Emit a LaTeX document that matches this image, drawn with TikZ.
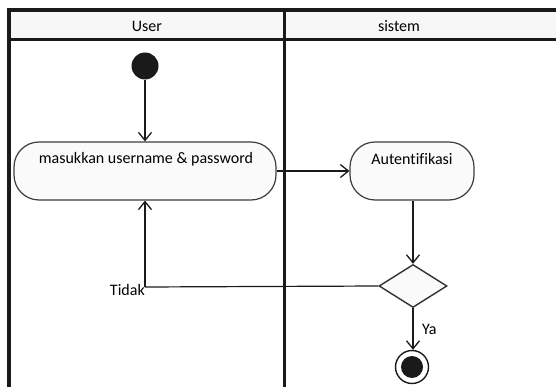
\documentclass[tikz,border=0pt]{standalone}
\usepackage{fontspec}
\setmainfont{Carlito}[Ligatures=NoCommon]
\usetikzlibrary{arrows.meta,shapes.geometric}
\definecolor{ink}{HTML}{1A1A1A}
\definecolor{lanehead}{HTML}{F7F7F7}
\definecolor{actfill}{HTML}{FAFAFA}
\tikzset{
  lane/.style={draw=ink, line width=3.5pt},
  activity/.style={draw=ink!85, line width=1.2pt, rounded corners=25pt, fill=actfill,
    minimum height=58pt, inner sep=0pt},
  decision/.style={diamond, draw=ink!90, line width=1.4pt, fill=actfill, aspect=1.6,
    minimum width=68pt, minimum height=43pt, inner sep=0pt},
  flow/.style={draw=ink, line width=1.6pt, -{Straight Barb[length=8pt,width=13pt,line width=1.3pt]}},
  label/.style={font=\fontsize{16}{18}\selectfont, inner sep=0pt}
}
\begin{document}
\begin{tikzpicture}[x=1pt,y=-1pt]
\useasboundingbox (0,0) rectangle (556,387);
\clip (0,0) rectangle (556,387);
% swimlane header band and frame
\fill[lanehead] (9,10) rectangle (570,39);
\draw[lane] (9,400) -- (9,10) -- (570,10);
\draw[lane] (9,39.5) -- (570,39.5);
\draw[lane] (284.5,10) -- (284.5,400);
\node[label] (userlane) at (147,26) {User};
\node[label] (syslane) at (399,26) {sistem};
% start node
\node[circle, fill=ink, minimum size=27pt, inner sep=0pt] (start) at (145,66) {};
% activities
\node[activity, minimum width=262pt] (login) at (145,171) {};
\node[label] (logintext) at (146,159) {masukkan username \& password};
\node[activity, minimum width=124pt] (auth) at (412,171) {};
\node[label] (authtext) at (412,159) {Autentifikasi};
% decision
\node[decision] (dec) at (413,286) {};
% final node
\node[circle, draw=ink, line width=1.4pt, fill=white, minimum size=33pt, inner sep=0pt] (end) at (412,367) {};
\node[circle, fill=ink, minimum size=22pt, inner sep=0pt] (endcore) at (412,367) {};
% flows
\draw[flow] (start) -- (login.north -| start);
\draw[flow] (login.east) -- (auth.west);
\draw[flow] (auth.south -| dec) -- (dec.north);
\coordinate (bend) at (145,287);
\draw[draw=ink, line width=1.2pt] (dec.west) -- (bend);
\draw[flow, line width=1.2pt] (bend) -- (login.south);
\node[label, anchor=east] (tidak) at ([yshift=-3pt]bend) {Tidak};
\draw[flow] (dec.south) -- (end.north -| dec);
\node[label, anchor=west] (ya) at (422,329) {Ya};
\end{tikzpicture}
\end{document}
